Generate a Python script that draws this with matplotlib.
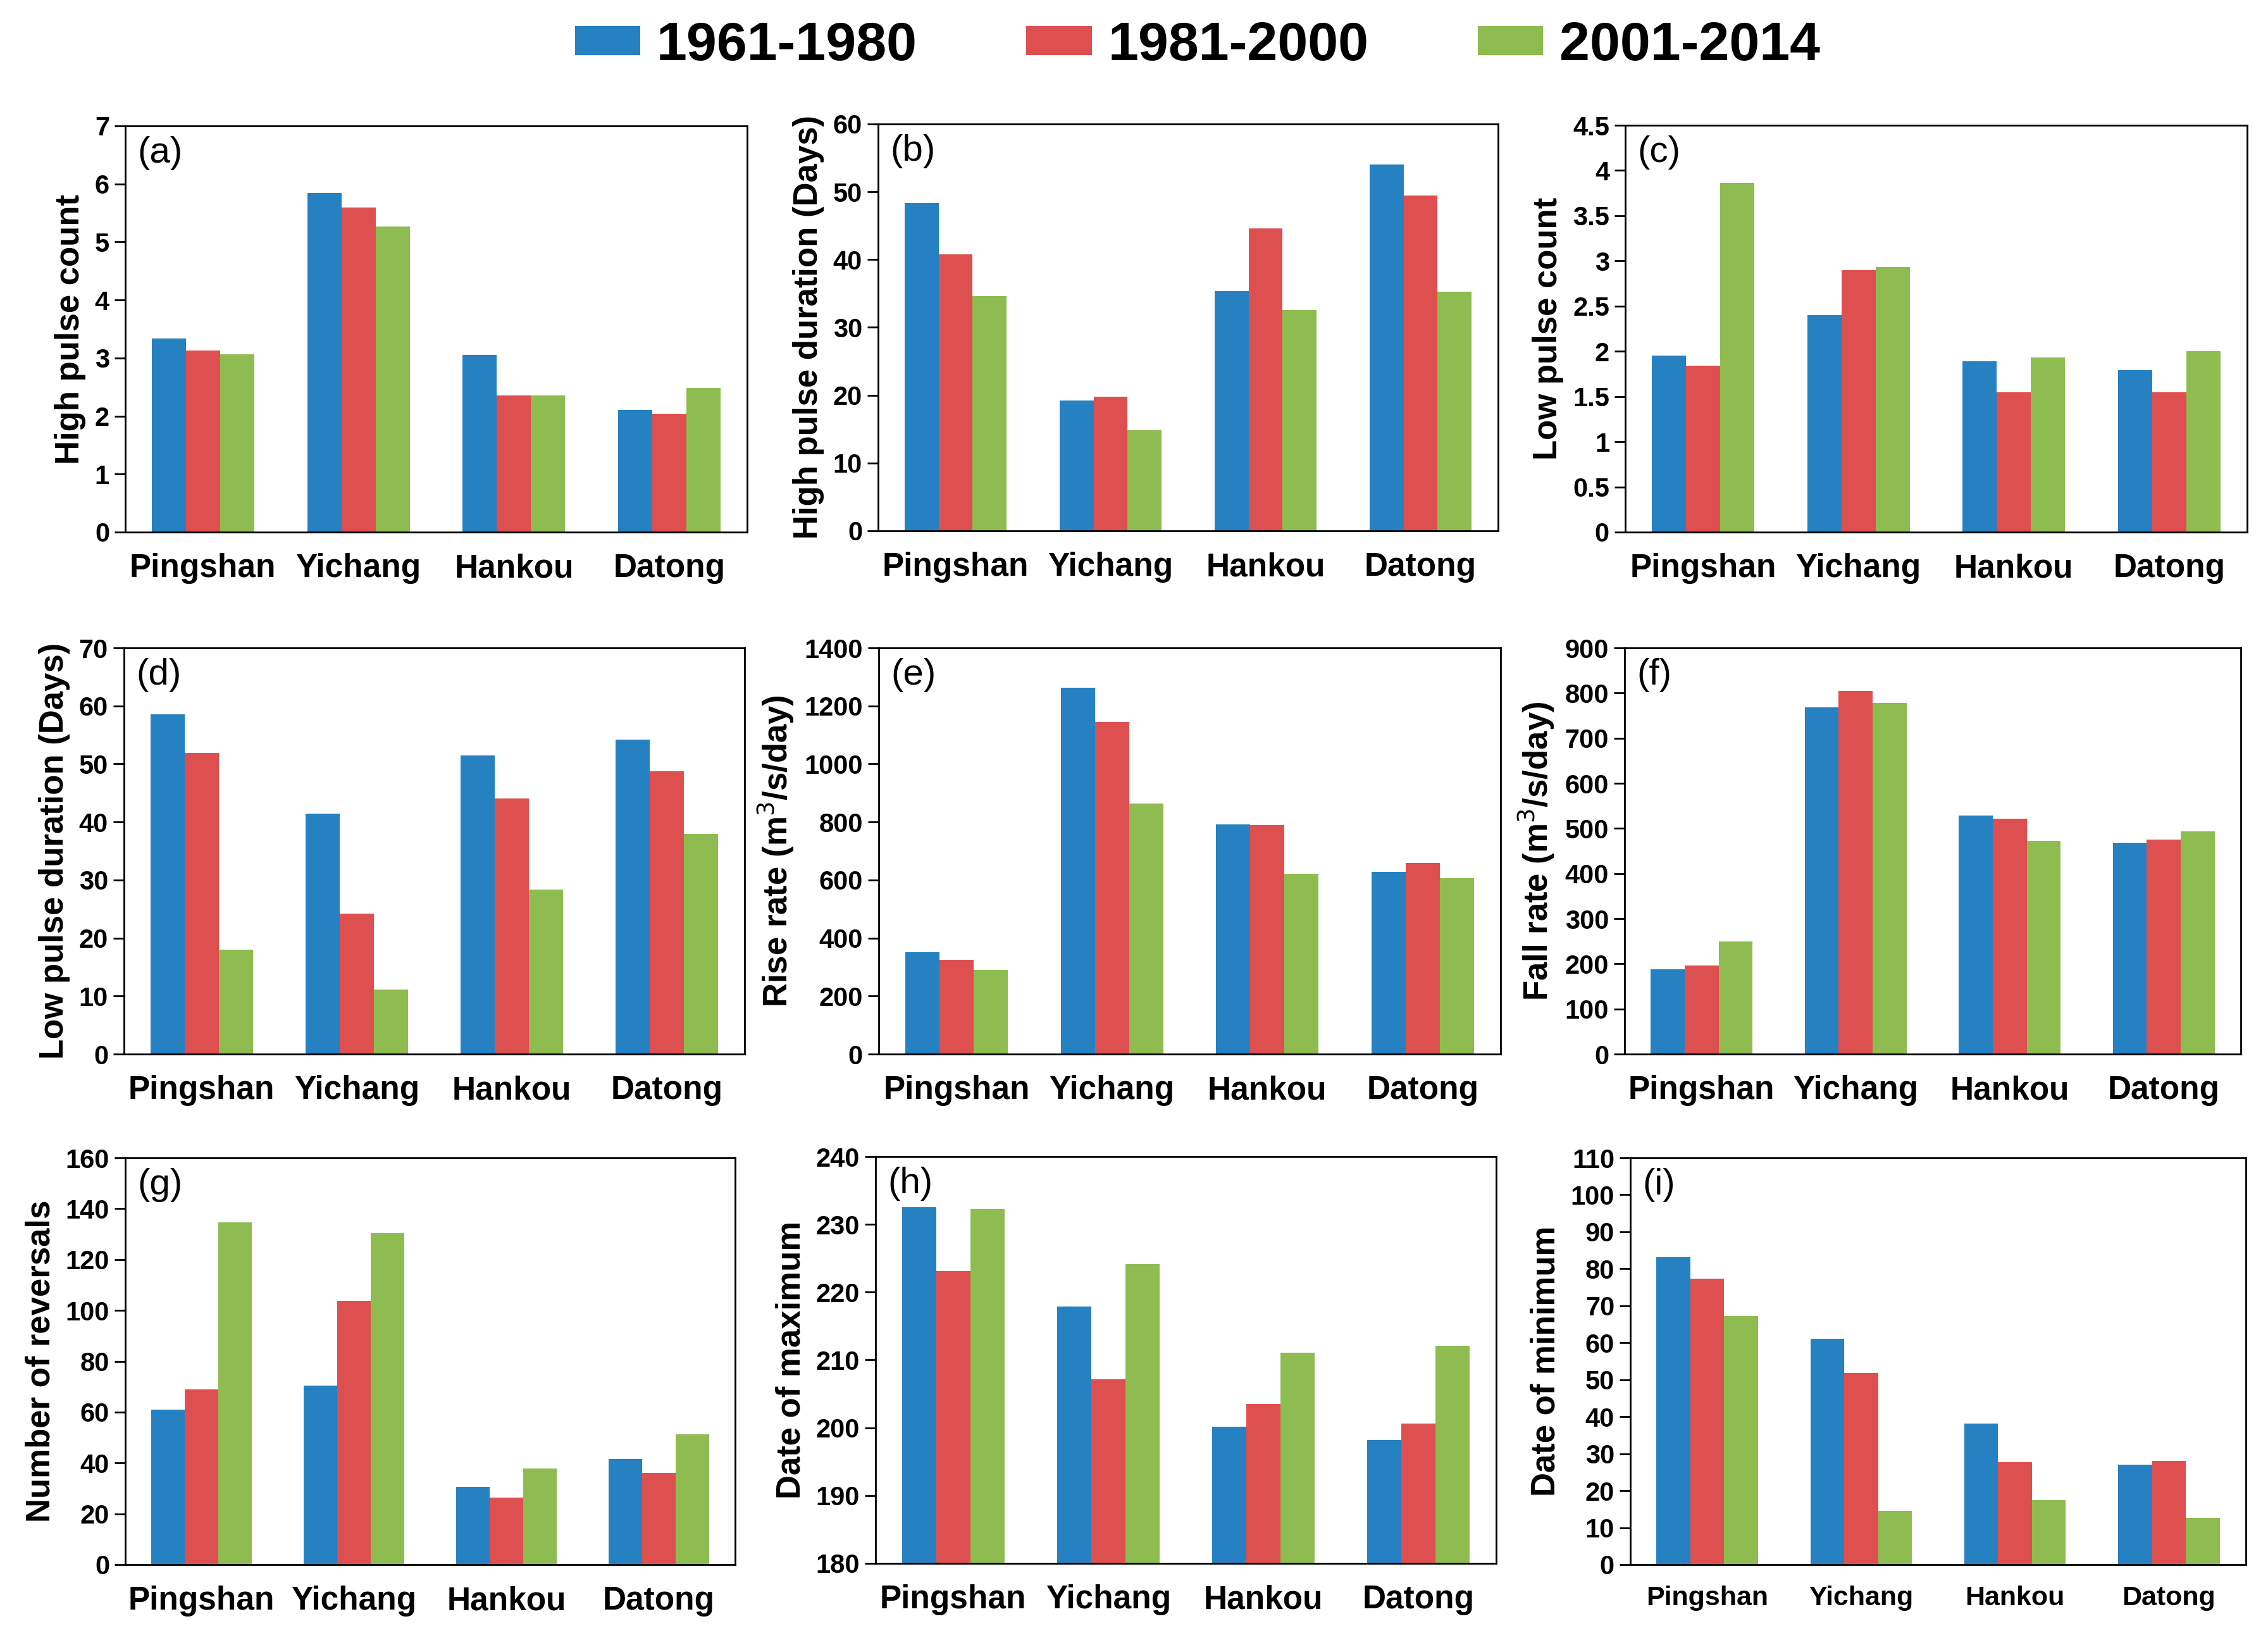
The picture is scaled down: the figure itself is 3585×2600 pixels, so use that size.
import matplotlib
matplotlib.use("Agg")
import matplotlib.pyplot as plt
import numpy as np

plt.rcParams['font.family'] = ['Liberation Sans', 'DejaVu Sans']

stations = ['Pingshan', 'Yichang', 'Hankou', 'Datong']
periods = ['1961-1980', '1981-2000', '2001-2014']
colors = ['#2581C2', '#DE504F', '#8EBC50']

# (a) high pulse count
high_count_6180 = [3.34, 5.84, 3.05, 2.10]
high_count_8100 = [3.13, 5.59, 2.35, 2.04]
high_count_0114 = [3.06, 5.27, 2.35, 2.49]
# (b) high pulse duration
high_dur_6180 = [48.3, 19.2, 35.4, 54.0]
high_dur_8100 = [40.8, 19.8, 44.6, 49.5]
high_dur_0114 = [34.6, 14.8, 32.6, 35.3]
# (c) low pulse count
low_count_6180 = [1.95, 2.40, 1.89, 1.79]
low_count_8100 = [1.84, 2.90, 1.55, 1.55]
low_count_0114 = [3.86, 2.93, 1.93, 2.00]
# (d) low pulse duration
low_dur_6180 = [58.6, 41.4, 51.5, 54.2]
low_dur_8100 = [51.9, 24.2, 44.0, 48.7]
low_dur_0114 = [18.0, 11.1, 28.4, 37.9]
# (e) rise rate
rise_6180 = [351, 1262, 791, 627]
rise_8100 = [326, 1144, 789, 658]
rise_0114 = [290, 863, 622, 607]
# (f) fall rate
fall_6180 = [188, 768, 528, 468]
fall_8100 = [196, 805, 521, 475]
fall_0114 = [249, 778, 472, 493]
# (g) number of reversals
rev_6180 = [61.0, 70.4, 30.5, 41.5]
rev_8100 = [68.9, 103.7, 26.4, 36.2]
rev_0114 = [134.5, 130.4, 37.9, 51.2]
# (h) date of maximum
dmax_6180 = [232.5, 217.9, 200.2, 198.2]
dmax_8100 = [223.1, 207.2, 203.5, 200.6]
dmax_0114 = [232.3, 224.1, 211.1, 212.1]
# (i) date of minimum
dmin_6180 = [83.1, 61.0, 38.2, 27.0]
dmin_8100 = [77.3, 51.8, 27.7, 28.0]
dmin_0114 = [67.2, 14.6, 17.5, 12.6]

panels = [
    ('(a)', 'High pulse count', [high_count_6180, high_count_8100, high_count_0114], (0, 7), np.arange(0, 7.1, 1)),
    ('(b)', 'High pulse duration (Days)', [high_dur_6180, high_dur_8100, high_dur_0114], (0, 60), np.arange(0, 61, 10)),
    ('(c)', 'Low pulse count', [low_count_6180, low_count_8100, low_count_0114], (0, 4.5), np.arange(0, 4.6, 0.5)),
    ('(d)', 'Low pulse duration (Days)', [low_dur_6180, low_dur_8100, low_dur_0114], (0, 70), np.arange(0, 71, 10)),
    ('(e)', 'Rise rate (m$^3$/s/day)', [rise_6180, rise_8100, rise_0114], (0, 1400), np.arange(0, 1401, 200)),
    ('(f)', 'Fall rate (m$^3$/s/day)', [fall_6180, fall_8100, fall_0114], (0, 900), np.arange(0, 901, 100)),
    ('(g)', 'Number of reversals', [rev_6180, rev_8100, rev_0114], (0, 160), np.arange(0, 161, 20)),
    ('(h)', 'Date of maximum', [dmax_6180, dmax_8100, dmax_0114], (180, 240), np.arange(180, 241, 10)),
    ('(i)', 'Date of minimum', [dmin_6180, dmin_8100, dmin_0114], (0, 110), np.arange(0, 111, 10)),
]

# axes boxes in pixels (left, right, top, bottom) of the 3585x2600 canvas
W, H = 3585, 2600
boxes = [
    (198, 1181, 199, 841), (1388, 2368, 196, 839), (2569, 3552, 198, 841),
    (196, 1177, 1024, 1666), (1389, 2372, 1024, 1666), (2568, 3542, 1024, 1666),
    (198, 1162, 1830, 2473), (1384, 2365, 1828, 2471), (2577, 3550, 1830, 2473),
]

fig = plt.figure(figsize=(W / 100, H / 100), dpi=100)
x = np.arange(len(stations))
width = 0.22

for i, (tag, ylabel, series, ylim, yticks) in enumerate(panels):
    l, r, t, b = boxes[i]
    ax = fig.add_axes([l / W, 1 - b / H, (r - l) / W, (b - t) / H])
    for k in range(3):
        vals = np.array(series[k])
        ax.bar(x + (k - 1) * width, vals - ylim[0], width, bottom=ylim[0],
               color=colors[k], label=periods[k])
    ax.set_xlim(-0.5, 3.5)
    ax.set_ylim(*ylim)
    ax.set_yticks(yticks)
    ax.set_yticklabels(['%g' % v for v in yticks], fontsize=30, fontweight='bold')
    ax.set_xticks(x)
    xsize = 31 if tag == '(i)' else 37
    ax.set_xticklabels(stations, fontsize=xsize, fontweight='bold')
    ax.tick_params(axis='x', length=0, pad=24)
    ax.tick_params(axis='y', length=12, width=2, direction='out', pad=6)
    for sp in ax.spines.values():
        sp.set_linewidth(2)
    ax.set_ylabel(ylabel, fontsize=38, fontweight='bold', labelpad=10)
    ax.text(0.02, 0.975, tag, transform=ax.transAxes, fontsize=42,
            va='top', ha='left')
    if i == 0:
        handles, labels = ax.get_legend_handles_labels()

fig.legend(handles, labels, loc='center', bbox_to_anchor=(0.528, 0.972),
           ncol=3, frameon=False, handlelength=1.2, handleheight=0.45,
           handletextpad=0.3, columnspacing=2.0,
           prop={'size': 62, 'weight': 'bold'})

fig.savefig('out.png', dpi=100)
